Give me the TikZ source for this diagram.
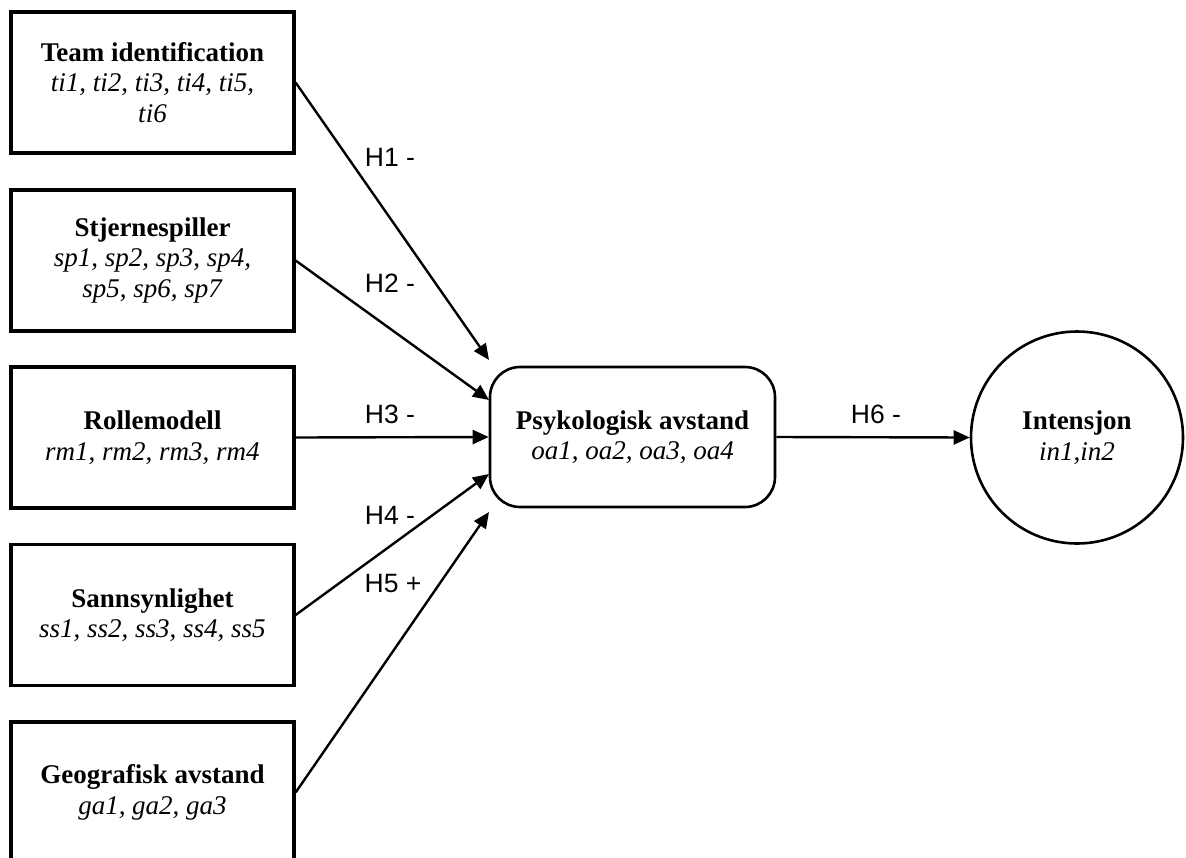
\documentclass[tikz,border=0pt]{standalone}
\usepackage{fontspec}
\setmainfont{Liberation Serif}
\newfontfamily\labfont{Liberation Sans}
\usetikzlibrary{arrows.meta}
\begin{document}
\begin{tikzpicture}[x=1pt,y=-1pt,
  varbox/.style={draw, line width=3.2pt, minimum width=283pt, minimum height=141pt,
    align=center, inner sep=0pt, font=\fontsize{27}{30.5}\selectfont},
  midbox/.style={draw, line width=2.6pt, rounded corners=30pt, minimum width=285pt,
    minimum height=140pt, align=center, inner sep=0pt, font=\fontsize{27}{30.5}\selectfont},
  outcircle/.style={draw, circle, line width=2.6pt, minimum size=212pt, align=center,
    inner sep=0pt, font=\fontsize{27}{30.5}\selectfont},
  arr/.style={-{Triangle[length=16pt,width=14pt]}, line width=2.4pt},
  hlabel/.style={font=\labfont\fontsize{26.5}{30}\selectfont, inner sep=0pt, anchor=center}]
\useasboundingbox (0,0) rectangle (1186,857);
\clip (0,0) rectangle (1186,857);

\node[varbox] (ti) at (152.5,82.5) {\textbf{Team identification}\\\textit{ti1, ti2, ti3, ti4, ti5,}\\\textit{ti6}};
\node[varbox] (sp) at (152.5,260.5) {\textbf{Stjernespiller}\\\textit{sp1, sp2, sp3, sp4,}\\\textit{sp5, sp6, sp7}};
\node[varbox] (rm) at (152.5,437.5) {\textbf{Rollemodell}\\\textit{rm1, rm2, rm3, rm4}};
\node[varbox] (ss) at (152.5,615) {\textbf{Sannsynlighet}\\\textit{ss1, ss2, ss3, ss4, ss5}};
\node[varbox] (ga) at (152.5,792.5) {\textbf{Geografisk avstand}\\\textit{ga1, ga2, ga3}};

\node[midbox] (pa) at (632.5,437) {\textbf{Psykologisk avstand}\\\textit{oa1, oa2, oa3, oa4}};
\node[outcircle] (in) at (1077,437.5) {\textbf{Intensjon}\\\textit{in1,in2}};

\coordinate (e1) at (489,360);
\coordinate (e2) at (489,400);
\coordinate (e4) at (489,474);
\coordinate (e5) at (489,512);

\draw[arr] (ti.east) -- (e1);
\draw[arr] (sp.east) -- (e2);
\draw[arr] (rm.east) -- (pa.west);
\draw[arr] (ss.east) -- (e4);
\draw[arr] (ga.east) -- (e5);
\draw[arr] (pa.east) -- (in.west);

\node[hlabel] (h1) at (390,157) {H1 -};
\node[hlabel] (h2) at (390,283) {H2 -};
\node[hlabel] (h3) at (390,414) {H3 -};
\node[hlabel] (h4) at (390,515) {H4 -};
\node[hlabel] (h5) at (393,584) {H5 +};
\node[hlabel] (h6) at (876,414) {H6 -};
\end{tikzpicture}
\end{document}
